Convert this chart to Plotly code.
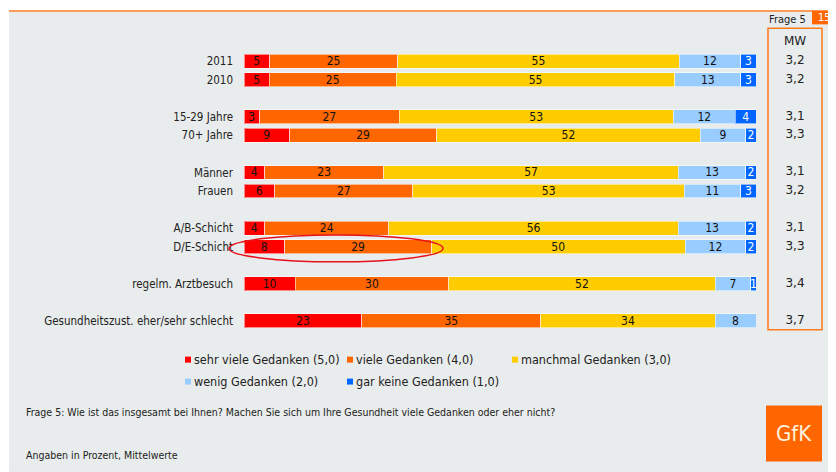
import plotly.graph_objects as go

# ---------------- data ----------------
categories = ["2011", "2010", "15-29 Jahre", "70+ Jahre", "Männer", "Frauen",
              "A/B-Schicht", "D/E-Schicht", "regelm. Arztbesuch",
              "Gesundheitszust. eher/sehr schlecht"]
groups = [0, 0, 1, 1, 2, 2, 3, 3, 4, 5]

series_names = ["sehr viele Gedanken (5,0)", "viele Gedanken (4,0)",
                "manchmal Gedanken (3,0)", "wenig Gedanken (2,0)",
                "gar keine Gedanken (1,0)"]
sehr_viele = [5, 5, 3, 9, 4, 6, 4, 8, 10, 23]
viele = [25, 25, 27, 29, 23, 27, 24, 29, 30, 35]
manchmal = [55, 55, 53, 52, 57, 53, 56, 50, 52, 34]
wenig = [12, 13, 12, 9, 13, 11, 13, 12, 7, 8]
gar_keine = [3, 3, 4, 2, 2, 3, 2, 2, 1, 0]
mw = ["3,2", "3,2", "3,1", "3,3", "3,1", "3,2", "3,1", "3,3", "3,4", "3,7"]

series_values = [sehr_viele, viele, manchmal, wenig, gar_keine]
colors = ["#FF0000", "#FF6600", "#FFCC00", "#99CCFF", "#0066FF"]
text_colors = ["#111111", "#111111", "#111111", "#111111", "#FFFFFF"]

# ---------------- layout geometry (page pixels) ----------------
PAGE_W, PAGE_H = 836, 472
OFF = 8                      # page body margin
FIG_W, FIG_H = PAGE_W - OFF, PAGE_H - OFF
L, R_END = 244, 822
T, B = 51.7, 330.3
W, H = R_END - L, B - T
BG = "#E9ECEC"
FONT = "DejaVu Sans Condensed, DejaVu Sans, sans-serif"
FONT2 = "DejaVu Sans, sans-serif"


def fx(px):
    return (px - L) / W


def fy(py):
    return (B - py) / H


def label(x, y, text, size, color="#222222", family=FONT, xanchor="center"):
    return dict(xref="paper", yref="paper", x=fx(x), y=fy(y), text=text,
                showarrow=False, xanchor=xanchor, yanchor="middle",
                font=dict(color=color, size=size, family=family))


positions = [i + g for i, g in enumerate(groups)]

fig = go.Figure()
for name, vals, col, tcol in zip(series_names, series_values, colors, text_colors):
    fig.add_trace(go.Bar(
        x=vals, y=positions, orientation="h", name=name,
        marker=dict(color=col, line=dict(color="rgba(255,255,255,0.55)", width=1)),
        width=0.75,
        text=[str(v) if v else "" for v in vals],
        textposition="inside", insidetextanchor="middle", textangle=0,
        constraintext="none",
        textfont=dict(color=tcol, size=12, family=FONT),
        showlegend=False, xaxis="x", yaxis="y",
    ))

fig.add_trace(go.Scatter(
    x=[0.5] * len(mw), y=positions, mode="text", text=mw,
    textposition="middle center",
    textfont=dict(size=12, color="#222222", family=FONT2),
    xaxis="x2", yaxis="y", showlegend=False,
))

shapes = []
annotations = []

# white frame strips + orange top line
shapes.append(dict(type="rect", xref="paper", yref="paper", layer="below",
                   x0=fx(0), x1=fx(PAGE_W), y0=fy(0), y1=fy(9.5),
                   fillcolor="white", line=dict(width=0)))
shapes.append(dict(type="rect", xref="paper", yref="paper", layer="below",
                   x0=fx(0), x1=fx(9), y0=fy(0), y1=fy(PAGE_H),
                   fillcolor="white", line=dict(width=0)))
shapes.append(dict(type="line", xref="paper", yref="paper",
                   x0=fx(9), x1=fx(PAGE_W), y0=fy(10.5), y1=fy(10.5),
                   line=dict(color="#FF9B5A", width=2)))

# page number box
shapes.append(dict(type="rect", xref="paper", yref="paper",
                   x0=fx(812), x1=fx(836), y0=fy(24), y1=fy(10.5),
                   fillcolor="#FF6600", line=dict(width=0)))
annotations.append(label(824, 17.5, "15", 11, color="white"))
annotations.append(label(787, 19, "Frage 5", 11))

# MW box
shapes.append(dict(type="rect", xref="paper", yref="paper",
                   x0=fx(768), x1=fx(822), y0=fy(330), y1=fy(28),
                   line=dict(color="#FF7A1A", width=1.5)))
annotations.append(label(795, 41, "MW", 12, family=FONT2))

# highlight ellipse around D/E-Schicht
shapes.append(dict(type="circle", xref="paper", yref="paper",
                   x0=fx(229), x1=fx(443), y0=fy(262), y1=fy(235),
                   line=dict(color="#E8101A", width=1.5)))

# custom legend
legend_slots = [(185, 360), (347, 360), (512, 360), (185, 382), (347, 382)]
for name, col, (lx, ly) in zip(series_names, colors, legend_slots):
    shapes.append(dict(type="rect", xref="paper", yref="paper",
                       x0=fx(lx), x1=fx(lx + 6), y0=fy(ly + 3), y1=fy(ly - 3),
                       fillcolor=col, line=dict(width=0)))
    annotations.append(label(lx + 7, ly, name, 12.5, xanchor="left"))

# footnotes
annotations.append(label(24, 412, "Frage 5: Wie ist das insgesamt bei Ihnen? Machen Sie sich um Ihre Gesundheit viele Gedanken oder eher nicht?",
                         10.5, xanchor="left"))
annotations.append(label(24, 456, "Angaben in Prozent, Mittelwerte", 10.5,
                         xanchor="left"))

# GfK logo
shapes.append(dict(type="rect", xref="paper", yref="paper",
                   x0=fx(766), x1=fx(822), y0=fy(462), y1=fy(406),
                   fillcolor="#FF6600", line=dict(width=0)))
annotations.append(label(794, 434, "GfK", 22, color="#FFF1DC"))

fig.update_layout(
    width=FIG_W, height=FIG_H,
    margin=dict(l=L - OFF, r=PAGE_W - R_END, t=T - OFF, b=PAGE_H - B, pad=0),
    paper_bgcolor=BG, plot_bgcolor=BG,
    barmode="stack", barnorm="percent",
    xaxis=dict(domain=[0, (756 - L) / W], range=[0, 100], visible=False,
               fixedrange=True),
    xaxis2=dict(domain=[fx(768), 1], range=[0, 1], visible=False,
                anchor="y"),
    yaxis=dict(range=[14.5, -0.5], tickmode="array", tickvals=positions,
               ticktext=categories, showgrid=False, zeroline=False,
               showline=False, ticks="", ticklabelstandoff=10,
               tickfont=dict(size=11.5, color="#222222", family=FONT)),
    shapes=shapes, annotations=annotations,
    font=dict(family=FONT),
    showlegend=False,
)

fig.write_html("out.html")
